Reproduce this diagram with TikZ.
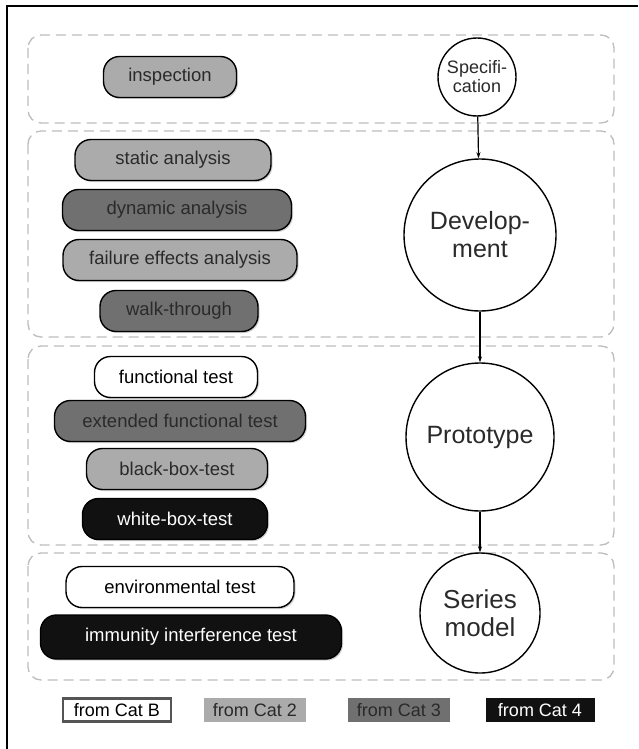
\documentclass[tikz,border=0pt]{standalone}
\usepackage{fontspec}
\setmainfont{Liberation Sans}
\usetikzlibrary{arrows.meta,shadows}
\definecolor{lightg}{HTML}{ABABAB}
\definecolor{darkg}{HTML}{707070}
\definecolor{blk}{HTML}{111111}
\definecolor{dashg}{HTML}{BDBDBD}
\definecolor{txtg}{HTML}{2A2A2A}
\definecolor{legb}{HTML}{555555}
\begin{document}
\begin{tikzpicture}[x=1pt,y=-1pt,
  phase/.style={draw=dashg, line width=1.3pt, dash pattern=on 10pt off 6pt, rounded corners=13pt},
  pill/.style={draw=black, line width=1.4pt, rounded corners=16pt, minimum height=41pt, inner sep=0pt,
    font=\fontsize{18.5}{20}\selectfont, text=txtg,
    drop shadow={shadow xshift=1.5pt, shadow yshift=-1.5pt, opacity=0.35}},
  catb/.style={pill, fill=white, text=black},
  cattwo/.style={pill, fill=lightg},
  catthree/.style={pill, fill=darkg},
  catfour/.style={pill, fill=blk, text=white},
  circ/.style={draw=black, line width=1.4pt, circle, fill=white, inner sep=0pt, align=center, text=txtg},
  flow/.style={draw=black, line width=1.2pt, -{Stealth[length=6pt,width=4pt]}},
  leg/.style={minimum width=102pt, minimum height=24pt, inner sep=0pt, font=\fontsize{18}{20}\selectfont}
]
\useasboundingbox (0,0) rectangle (638,749);
\fill[white] (0,0) rectangle (638,749);
\draw[line width=1.3pt] (7,749) -- (7,6) -- (638,6);

% phase frames
\draw[phase] (28,35) rectangle (614,123);
\draw[phase] (28,131) rectangle (614,337);
\draw[phase] (28,346) rectangle (614,545);
\draw[phase] (28,553) rectangle (614,680);

% circles
\node[circ, minimum size=78pt, font=\fontsize{18}{19}\selectfont] (spec) at (477,77) {Specifi-\\cation};
\node[circ, minimum size=152pt, font=\fontsize{25}{28}\selectfont] (dev) at (480,235) {Develop-\\ment};
\node[circ, minimum size=148pt, font=\fontsize{25}{28}\selectfont] (proto) at (480,437) {Prototype};
\node[circ, minimum size=120pt, font=\fontsize{26}{28}\selectfont] (series) at (480,613) {Series\\model};

\draw[flow] (spec) -- (dev);
\draw[flow] (dev) -- (proto);
\draw[flow] (proto) -- (series);

% methods
\node[cattwo, minimum width=133pt] (insp) at (170,77) {inspection};
\node[cattwo, minimum width=196pt] (stat) at (173,160) {static analysis};
\node[catthree, minimum width=229pt] (dyn) at (177,210) {dynamic analysis};
\node[cattwo, minimum width=234pt] (fea) at (180,260) {failure effects analysis};
\node[catthree, minimum width=158pt] (walk) at (179,311) {walk-through};
\node[catb, minimum width=163pt] (func) at (176,377) {functional test};
\node[catthree, minimum width=251pt] (ext) at (180,421) {extended functional test};
\node[cattwo, minimum width=181pt] (bb) at (177,469) {black-box-test};
\node[catfour, minimum width=185pt] (wb) at (175,519) {white-box-test};
\node[catb, minimum width=228pt] (env) at (180,587) {environmental test};
\node[catfour, minimum width=301pt, minimum height=44pt] (imm) at (191,637) {immunity interference test};

% legend
\node[leg, draw=legb, line width=2.5pt, fill=white, text=black, minimum width=108pt, minimum height=23pt] (lb) at (117,710) {from Cat B};
\node[leg, fill=lightg, text=txtg] (l2) at (255,710) {from Cat 2};
\node[leg, fill=darkg, text=txtg] (l3) at (399,710) {from Cat 3};
\node[leg, fill=blk, text=white, minimum width=109pt] (l4) at (540,710) {from Cat 4};
\end{tikzpicture}
\end{document}
